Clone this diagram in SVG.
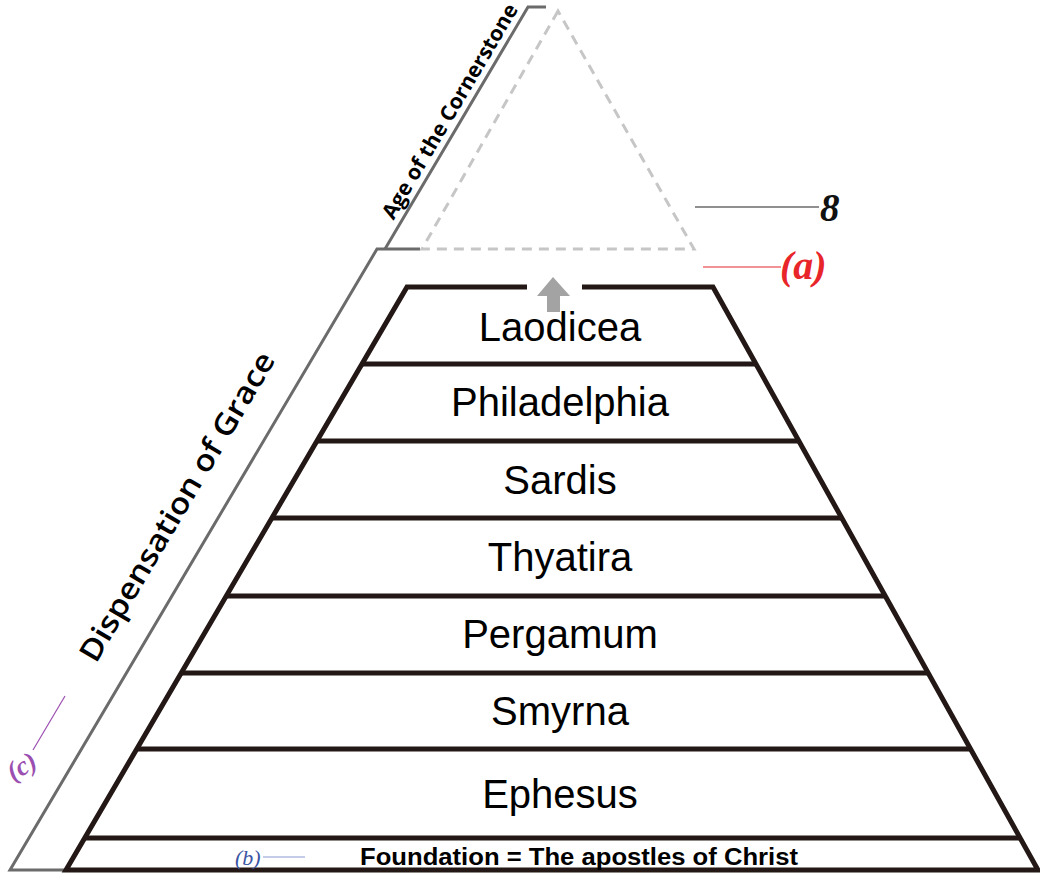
<svg xmlns="http://www.w3.org/2000/svg" width="1040" height="873" viewBox="0 0 1040 873">
<style>
.frame{fill:none;stroke:#6b6b6b;stroke-width:3}
.edge{fill:none;stroke:#231815;stroke-width:5;stroke-linejoin:miter}
.div{stroke:#231815;stroke-width:5}
.lyr{font-family:"Liberation Sans",Arial,sans-serif;font-size:40px;fill:#000;text-anchor:middle}
.side{font-family:"Open Sans","DejaVu Sans",sans-serif;fill:#000;text-anchor:middle}
.lead{fill:none;stroke-width:1.2}
.mark{font-family:"Liberation Serif","Times New Roman",serif;font-style:italic}
</style>
<rect width="1040" height="873" fill="#fff"/>
<g id="frame">
  <path class="frame" d="M546,7 H528 L385,249"/>
  <path class="frame" d="M420,249 H377 L10,870 H68"/>
  <text class="side" font-size="21" font-weight="700" transform="translate(456,115) rotate(-59.4)" textLength="246" lengthAdjust="spacingAndGlyphs">Age of the Cornerstone</text>
  <text class="side" font-size="30" font-weight="600" transform="translate(186,512) rotate(-59.4)" textLength="354" lengthAdjust="spacingAndGlyphs">Dispensation of Grace</text>
</g>
<g id="cornerstone">
  <path d="M558,11 L422,249 H694 Z" fill="none" stroke="#c6c6c6" stroke-width="3" stroke-dasharray="10,7"/>
</g>
<g id="pyramid-outline">
  <path class="edge" d="M527,287 H407 L66,870 H1038 L713,287 H582"/>
  <path d="M553,277 L537,296 H547 V312 H560 V296 H570 Z" fill="#a3a3a3"/>
</g>
<g id="laodicea">
  <line class="div" x1="362" y1="364" x2="756" y2="364"/>
  <text class="lyr" x="560" y="341">Laodicea</text>
</g>
<g id="philadelphia">
  <line class="div" x1="317" y1="441" x2="799" y2="441"/>
  <text class="lyr" x="560" y="416">Philadelphia</text>
</g>
<g id="sardis">
  <line class="div" x1="272" y1="518" x2="842" y2="518"/>
  <text class="lyr" x="560" y="494">Sardis</text>
</g>
<g id="thyatira">
  <line class="div" x1="226" y1="596" x2="885" y2="596"/>
  <text class="lyr" x="560" y="571">Thyatira</text>
</g>
<g id="pergamum">
  <line class="div" x1="181" y1="673" x2="928" y2="673"/>
  <text class="lyr" x="560" y="648">Pergamum</text>
</g>
<g id="smyrna">
  <line class="div" x1="137" y1="749" x2="971" y2="749"/>
  <text class="lyr" x="560" y="725">Smyrna</text>
</g>
<g id="ephesus">
  <line class="div" x1="85" y1="838" x2="1020" y2="838"/>
  <text class="lyr" x="560" y="808">Ephesus</text>
</g>
<g id="foundation">
  <text x="579" y="865" font-family="Liberation Sans,Arial,sans-serif" font-weight="bold" font-size="23" text-anchor="middle" textLength="438" lengthAdjust="spacingAndGlyphs">Foundation = The apostles of Christ</text>
</g>
<g id="connectors">
  <line class="lead" x1="695" y1="207" x2="819" y2="207" stroke="#222"/>
  <line class="lead" x1="703" y1="267" x2="781" y2="267" stroke="#e8262a"/>
  <line class="lead" x1="263" y1="857" x2="305" y2="857" stroke="#8a9ad0"/>
  <line class="lead" x1="65" y1="696" x2="33" y2="750" stroke="#9b4fb0"/>
</g>
<g id="labels">
  <text class="mark" x="820" y="221" font-size="39" font-weight="bold" fill="#111">8</text>
  <text class="mark" x="780" y="279" font-size="40" font-weight="bold" fill="#e8262a">(a)</text>
  <text class="mark" x="235" y="865" font-size="22" fill="#3a55a4">(b)</text>
  <text class="mark" font-size="27" font-weight="bold" fill="#9b4fb0" transform="translate(26,774) rotate(-30)" text-anchor="middle">(c)</text>
</g>
</svg>
